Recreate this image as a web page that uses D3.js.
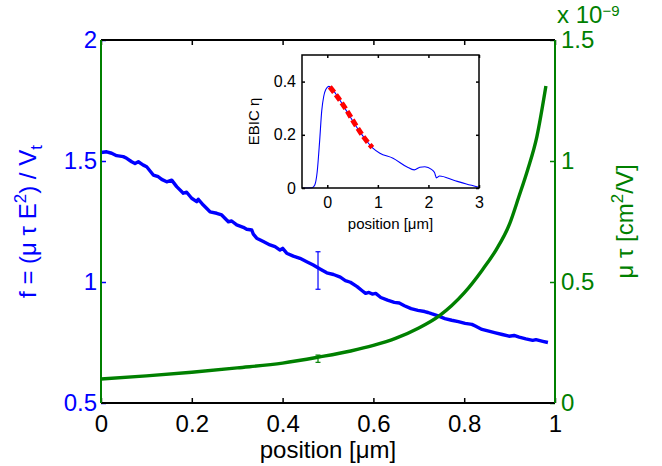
<!DOCTYPE html>
<html><head><meta charset="utf-8">
<script src="https://cdn.jsdelivr.net/npm/d3@7"></script>
<style>
html,body{margin:0;padding:0;background:#fff;}
svg{display:block;font-family:"Liberation Sans",Arial,Helvetica,sans-serif;}
</style></head>
<body>
<svg id="chart" width="662" height="466"></svg>
<script>
// ---------- data ----------
// main blue curve: position [um] vs f
const fPos = [0,0.0125,0.0235,0.0345,0.049,0.0566,0.0676,0.0749,0.0822,0.0932,0.1006,0.1152,0.1262,0.1337,0.1447,0.1557,0.1667,0.1813,0.1887,0.1997,0.2108,0.2143,0.2253,0.2401,0.2548,0.2658,0.2805,0.2878,0.2989,0.3134,0.3209,0.3319,0.3355,0.3429,0.3575,0.3722,0.3833,0.3943,0.4002,0.409,0.4236,0.4383,0.4531,0.4676,0.4824,0.4973,0.5121,0.5271,0.5382,0.5493,0.5641,0.5753,0.5828,0.5901,0.5976,0.6051,0.6163,0.6311,0.646,0.657,0.6683,0.683,0.698,0.7128,0.7203,0.7278,0.7425,0.7575,0.7723,0.7872,0.802,0.8169,0.8245,0.8392,0.8542,0.8689,0.8839,0.8987,0.9099,0.9211,0.9359,0.9509,0.9581,0.9731,0.9844];
const fVals = [1.535,1.538,1.532,1.522,1.518,1.511,1.497,1.490,1.497,1.483,1.476,1.442,1.435,1.424,1.414,1.421,1.394,1.367,1.371,1.346,1.332,1.342,1.318,1.290,1.284,1.277,1.249,1.252,1.236,1.226,1.218,1.215,1.198,1.181,1.167,1.153,1.146,1.132,1.139,1.119,1.107,1.098,1.084,1.070,1.054,1.038,1.031,1.020,1.006,0.999,0.981,0.964,0.953,0.957,0.950,0.953,0.936,0.925,0.916,0.913,0.902,0.890,0.883,0.878,0.874,0.869,0.860,0.849,0.842,0.836,0.829,0.825,0.818,0.804,0.797,0.790,0.783,0.776,0.779,0.772,0.765,0.759,0.762,0.755,0.750];
// main green curve: position [um] vs mu*tau [cm^2/V]
const mtPos  = [0,0.1,0.2,0.3,0.4,0.48,0.55,0.6,0.65,0.7,0.745,0.8,0.84,0.87,0.9,0.92,0.94,0.96,0.98];
const mtVals = [0.099e-9,0.112e-9,0.127e-9,0.145e-9,0.165e-9,0.19e-9,0.215e-9,0.238e-9,0.268e-9,0.31e-9,0.36e-9,0.455e-9,0.55e-9,0.632e-9,0.74e-9,0.85e-9,0.965e-9,1.1e-9,1.31e-9];
// error bars at one position
const errPos = [0.478];
const fErrLow = [0.970], fErrHigh = [1.125];
const mtErrLow = [0.168e-9], mtErrHigh = [0.198e-9];
// inset: EBIC eta vs position
const ebicPos  = [-0.5,-0.3,-0.25,-0.2,-0.15,-0.11,-0.07,-0.03,0.03,0.1,0.2,0.38,0.55,0.71,0.9,1.04,1.3,1.57,1.72,1.83,1.93,2.06,2.12,2.16,2.22,2.5,2.75,3.0];
const ebicVals = [0,0.001,0.01,0.06,0.18,0.29,0.345,0.37,0.382,0.372,0.345,0.29,0.238,0.194,0.15,0.131,0.112,0.08,0.068,0.078,0.08,0.07,0.058,0.038,0.045,0.029,0.015,0.003];
// inset: red dashed fit
const fitPos  = [0.05,0.2,0.37,0.55,0.71,0.89];
const fitVals = [0.38,0.343,0.296,0.24,0.194,0.152];
// ticks
const xTicks = [0,0.2,0.4,0.6,0.8,1];
const fTicks = [0.5,1,1.5,2];
const mtTicks = [0,0.5e-9,1e-9,1.5e-9];
const insetXTicks = [0,1,2,3];
const insetYTicks = [0,0.2,0.4];

// ---------- drawing ----------
const BLUE = "#0000ff", GREEN = "#008000";
const svg = d3.select("#chart");
svg.append("rect").attr("width",662).attr("height",466).attr("fill","#fff");

const M = {l:101, r:555, t:40, b:403};
const x = d3.scaleLinear().domain([0,1]).range([M.l,M.r]);
const yL = d3.scaleLinear().domain([0.5,2]).range([M.b,M.t]);
const yR = d3.scaleLinear().domain([0,1.5e-9]).range([M.b,M.t]);

// curves
svg.append("path").datum(fPos.map((p,i)=>[p,fVals[i]]))
  .attr("fill","none").attr("stroke",BLUE).attr("stroke-width",3.4).attr("stroke-linejoin","round")
  .attr("d", d3.line().x(d=>x(d[0])).y(d=>yL(d[1])));
svg.append("path").datum(mtPos.map((p,i)=>[p,mtVals[i]]))
  .attr("fill","none").attr("stroke",GREEN).attr("stroke-width",3.4)
  .attr("d", d3.line().curve(d3.curveMonotoneX).x(d=>x(d[0])).y(d=>yR(d[1])));

// error bars
function errBar(px, lo, hi, sc, col){
  const g = svg.append("g").attr("stroke",col).attr("stroke-width",1.2);
  g.append("line").attr("x1",x(px)).attr("x2",x(px)).attr("y1",sc(lo)).attr("y2",sc(hi));
  g.append("line").attr("x1",x(px)-2.5).attr("x2",x(px)+2.5).attr("y1",sc(lo)).attr("y2",sc(lo));
  g.append("line").attr("x1",x(px)-2.5).attr("x2",x(px)+2.5).attr("y1",sc(hi)).attr("y2",sc(hi));
}
errPos.forEach((p,i)=>{ errBar(p,fErrLow[i],fErrHigh[i],yL,BLUE); errBar(p,mtErrLow[i],mtErrHigh[i],yR,GREEN); });

const FS = 24;
function styleAxis(g, col, fs){
  g.select(".domain").remove();
  g.selectAll(".tick line").attr("stroke",col).attr("stroke-width",1.5);
  g.selectAll(".tick text").attr("fill",col).attr("font-size",fs).attr("font-family",'"Liberation Sans",Arial,sans-serif');
}
const fmt = d => String(+d.toFixed(2));
// bottom
svg.append("g").attr("transform",`translate(0,${M.b})`)
  .call(d3.axisBottom(x).tickValues(xTicks).tickSize(-5).tickPadding(12).tickFormat(fmt))
  .call(g=>styleAxis(g,"#000",FS));
// top
svg.append("g").attr("transform",`translate(0,${M.t})`)
  .call(d3.axisTop(x).tickValues(xTicks).tickSize(-5).tickFormat(""))
  .call(g=>styleAxis(g,"#000",FS));
// left
svg.append("g").attr("transform",`translate(${M.l},0)`)
  .call(d3.axisLeft(yL).tickValues(fTicks).tickSize(-5).tickPadding(4).tickFormat(fmt))
  .call(g=>styleAxis(g,BLUE,FS));
// right
svg.append("g").attr("transform",`translate(${M.r},0)`)
  .call(d3.axisRight(yR).tickValues(mtTicks).tickSize(-5).tickPadding(6).tickFormat(d=>fmt(d/1e-9)))
  .call(g=>styleAxis(g,GREEN,FS));

// frame
svg.append("line").attr("x1",M.l).attr("x2",M.r).attr("y1",M.b).attr("y2",M.b).attr("stroke","#000").attr("stroke-width",2);
svg.append("line").attr("x1",M.l).attr("x2",M.r).attr("y1",M.t).attr("y2",M.t).attr("stroke","#000").attr("stroke-width",2);
svg.append("line").attr("x1",M.l).attr("x2",M.l).attr("y1",M.t).attr("y2",M.b).attr("stroke",GREEN).attr("stroke-width",2);
svg.append("line").attr("x1",M.r).attr("x2",M.r).attr("y1",M.t).attr("y2",M.b).attr("stroke",GREEN).attr("stroke-width",2);

// exponent label
const ex = svg.append("text").attr("x",557).attr("y",23).attr("fill",GREEN).attr("font-size",FS);
ex.append("tspan").text("x 10");
ex.append("tspan").attr("dy",-7).attr("font-size",15).text("\u22129");

// axis labels
svg.append("text").attr("x",(M.l+M.r)/2).attr("y",458).attr("text-anchor","middle")
  .attr("font-size",FS).attr("fill","#000").text("position [\u03bcm]");

const yl = svg.append("text").attr("transform",`translate(36,${(M.t+M.b)/2}) rotate(-90)`)
  .attr("text-anchor","middle").attr("font-size",FS).attr("fill",BLUE);
yl.append("tspan").text("f = (\u03bc \u03c4 E");
yl.append("tspan").attr("dy",-10).attr("font-size",17).text("2");
yl.append("tspan").attr("dy",10).text(") / V");
yl.append("tspan").attr("dy",6).attr("font-size",17).text("t");

const yr = svg.append("text").attr("transform",`translate(633,${(M.t+M.b)/2}) rotate(-90)`)
  .attr("text-anchor","middle").attr("font-size",FS).attr("fill",GREEN);
yr.append("tspan").text("\u03bc \u03c4 [cm");
yr.append("tspan").attr("dy",-10).attr("font-size",17).text("2");
yr.append("tspan").attr("dy",10).text("/V]");

// ---------- inset ----------
const I = {l:302, r:479, t:55, b:188};
const ix = d3.scaleLinear().domain([-0.5,3]).range([I.l,I.r]);
const iy = d3.scaleLinear().domain([0,0.5]).range([I.b,I.t]);
const FSi = 16;
svg.append("rect").attr("x",I.l).attr("y",I.t).attr("width",I.r-I.l).attr("height",I.b-I.t).attr("fill","#fff");
svg.append("path").datum(ebicPos.map((p,i)=>[p,ebicVals[i]]))
  .attr("fill","none").attr("stroke",BLUE).attr("stroke-width",1.1)
  .attr("d", d3.line().curve(d3.curveMonotoneX).x(d=>ix(d[0])).y(d=>iy(d[1])));
svg.append("path").datum(fitPos.map((p,i)=>[p,fitVals[i]]))
  .attr("fill","none").attr("stroke","#ff0000").attr("stroke-width",5).attr("stroke-dasharray","7,3")
  .attr("d", d3.line().curve(d3.curveMonotoneX).x(d=>ix(d[0])).y(d=>iy(d[1])));

svg.append("g").attr("transform",`translate(0,${I.b})`)
  .call(d3.axisBottom(ix).tickValues(insetXTicks).tickSize(-3).tickPadding(9).tickFormat(fmt))
  .call(g=>styleAxis(g,"#000",FSi));
svg.append("g").attr("transform",`translate(0,${I.t})`)
  .call(d3.axisTop(ix).tickValues(insetXTicks).tickSize(-3).tickFormat(""))
  .call(g=>styleAxis(g,"#000",FSi));
svg.append("g").attr("transform",`translate(${I.l},0)`)
  .call(d3.axisLeft(iy).tickValues(insetYTicks).tickSize(-3).tickPadding(6).tickFormat(fmt))
  .call(g=>styleAxis(g,"#000",FSi));
svg.append("g").attr("transform",`translate(${I.r},0)`)
  .call(d3.axisRight(iy).tickValues(insetYTicks).tickSize(-3).tickFormat(""))
  .call(g=>styleAxis(g,"#000",FSi));
svg.append("rect").attr("x",I.l).attr("y",I.t).attr("width",I.r-I.l).attr("height",I.b-I.t)
  .attr("fill","none").attr("stroke","#000").attr("stroke-width",1.5);

svg.append("text").attr("x",(I.l+I.r)/2).attr("y",229).attr("text-anchor","middle")
  .attr("font-size",15).attr("fill","#000").text("position [\u03bcm]");
svg.append("text").attr("transform",`translate(259,${(I.t+I.b)/2}) rotate(-90)`)
  .attr("text-anchor","middle").attr("font-size",15).attr("fill","#000").text("EBIC \u03b7");
</script>
</body></html>
